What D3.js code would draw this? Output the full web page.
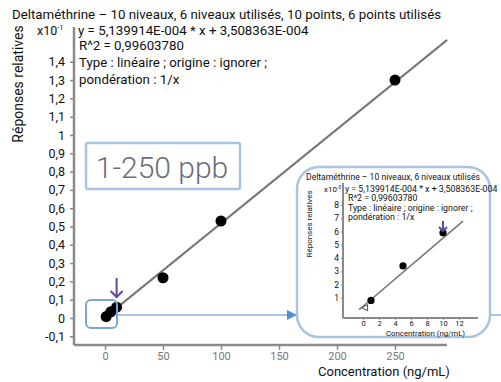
<!DOCTYPE html>
<html>
<head>
<meta charset="utf-8">
<script src="https://cdn.jsdelivr.net/npm/d3@7"></script>
<style>
  html, body { margin: 0; padding: 0; background: #fff; }
  svg { display: block; font-family: Roboto, "Noto Sans", sans-serif; }
</style>
</head>
<body>
<svg id="chart" width="501" height="382"></svg>
<script>
// Calibration levels (ng/mL) and relative responses (in units of 1e-1)
const levels = [1, 5, 10, 50, 100, 250];
const responses = [0.008, 0.034, 0.059, 0.22, 0.53, 1.30];
// Excluded level shown as an open marker
const excludedLevels = [0.2];
const excludedResponses = [0.0025];

// Fitted calibration curve (response vs concentration)
const slope = 5.139914e-4;
const intercept = 3.508363e-4;

const titleText = "Deltaméthrine – 10 niveaux, 6 niveaux utilisés, 10 points, 6 points utilisés";
const insetTitle = "Deltaméthrine – 10 niveaux, 6 niveaux utilisés";
const fitLines = [
  "y = 5,139914E-004 * x + 3,508363E-004",
  "R^2 = 0,99603780",
  "Type : linéaire ; origine : ignorer ;",
  "pondération : 1/x"
];
const xTicks = [0, 50, 100, 150, 200, 250];
const yTicks = [-0.1, 0, 0.1, 0.2, 0.3, 0.4, 0.5, 0.6, 0.7, 0.8, 0.9, 1, 1.1, 1.2, 1.3, 1.4];
const insetXTicks = [0, 2, 4, 6, 8, 10, 12];
const insetYTicks = [1, 2, 3, 4, 5, 6, 7, 8];
const rangeLabel = "1-250 ppb";

const fr = d3.formatLocale({decimal: ",", thousands: " ", grouping: [3], currency: ["", "€"], minus: "-"});
const fmt = fr.format("~g");

const svg = d3.select("#chart");
const axisColor = "#8a8a8a";
const blue = "#7aa7d9";
const purple = "#5b4aa0";

svg.append("defs").append("marker")
  .attr("id", "blueHead").attr("viewBox", "0 0 10 10")
  .attr("refX", 9).attr("refY", 5)
  .attr("markerWidth", 5).attr("markerHeight", 5)
  .attr("orient", "auto")
  .append("path").attr("d", "M0,0 L10,5 L0,10 Z").attr("fill", "#4f8fd6");

// ---------- main chart ----------
const x = d3.scaleLinear().domain([0, 250]).range([105, 395]);
const y = d3.scaleLinear().domain([0, 1.4]).range([318, 61.8]);

svg.append("text").attr("x", 12).attr("y", 19)
  .attr("font-size", 13.3).attr("fill", "#111").text(titleText);

svg.append("text").attr("x", 37).attr("y", 35).attr("font-size", 12.5).attr("fill", "#111")
  .text("x10").append("tspan").attr("dy", -5).attr("font-size", 7.5).text("-1");

fitLines.forEach((t, i) => {
  svg.append("text").attr("x", i === 0 ? 78 : 79).attr("y", [35, 50, 67, 84][i])
    .attr("font-size", 13.3).attr("fill", "#111").text(t);
});

svg.append("text")
  .attr("transform", "translate(23,84) rotate(-90)")
  .attr("text-anchor", "middle").attr("font-size", 14).attr("fill", "#111")
  .text("Réponses relatives");

// axes
const yAxis = svg.append("g").attr("transform", "translate(74,0)")
  .call(d3.axisLeft(y).tickValues(yTicks).tickFormat(fmt).tickSize(4).tickPadding(5));
yAxis.select(".domain").remove();
yAxis.selectAll("line").attr("stroke", axisColor).attr("stroke-width", 1.5);
yAxis.selectAll("text").attr("font-size", 12.5).attr("fill", "#111").attr("font-family", "Roboto, sans-serif");

const xAxis = svg.append("g").attr("transform", "translate(0,345)")
  .call(d3.axisBottom(x).tickValues(xTicks).tickFormat(fmt).tickSize(5).tickPadding(2));
xAxis.select(".domain").remove();
xAxis.selectAll("line").attr("stroke", axisColor).attr("stroke-width", 1.5);
xAxis.selectAll("text").attr("font-size", 11).attr("fill", "#777").attr("font-family", "Roboto, sans-serif");

svg.append("line").attr("x1", 74).attr("x2", 74).attr("y1", 27).attr("y2", 345)
  .attr("stroke", axisColor).attr("stroke-width", 2.5);
svg.append("line").attr("x1", 74).attr("x2", 447).attr("y1", 345).attr("y2", 345)
  .attr("stroke", axisColor).attr("stroke-width", 2.5);

svg.append("text").attr("x", 318).attr("y", 376).attr("font-size", 13).attr("fill", "#111")
  .text("Concentration (ng/mL)");

// regression line (values scaled to 1e-1 units)
const fit = c => (slope * c + intercept) * 10;
svg.append("line")
  .attr("x1", x(0)).attr("y1", y(fit(0)))
  .attr("x2", x(295)).attr("y2", y(fit(295)))
  .attr("stroke", "#777").attr("stroke-width", 2);

svg.append("g").selectAll("circle").data(levels).join("circle")
  .attr("cx", d => x(d)).attr("cy", (d, i) => y(responses[i]))
  .attr("r", 5.5).attr("fill", "#000");

// range label box
svg.append("rect").attr("x", 86).attr("y", 143).attr("width", 154).attr("height", 46)
  .attr("rx", 2).attr("fill", "#fff").attr("stroke", "#a9c3e3").attr("stroke-width", 2.5);
svg.append("text").attr("x", 162).attr("y", 178).attr("text-anchor", "middle")
  .attr("font-size", 30).attr("font-weight", 300).attr("fill", "#6c6c78").text(rangeLabel);

// zoom region around the origin and its connector
svg.append("line").attr("x1", 117).attr("x2", 501).attr("y1", 315).attr("y2", 315)
  .attr("stroke", "#a9c3e3").attr("stroke-width", 2);
svg.append("line").attr("x1", 117).attr("x2", 296).attr("y1", 315).attr("y2", 315)
  .attr("stroke", "#a9c3e3").attr("stroke-width", 2).attr("marker-end", "url(#blueHead)");
svg.append("rect").attr("x", 86).attr("y", 300).attr("width", 31).attr("height", 28)
  .attr("rx", 5).attr("fill", "none").attr("stroke", blue).attr("stroke-width", 2);

// arrow marking the 10 ng/mL level
function downArrow(g, cx, y0, y1, w) {
  g.append("line").attr("x1", cx).attr("x2", cx).attr("y1", y0).attr("y2", y1)
    .attr("stroke", purple).attr("stroke-width", 2);
  g.append("path").attr("d", `M${cx - w},${y1 - w} L${cx},${y1} L${cx + w},${y1 - w}`)
    .attr("fill", "none").attr("stroke", purple).attr("stroke-width", 2);
}
downArrow(svg, x(10), 278, 297, 6);

// ---------- inset ----------
const inset = svg.append("g");
inset.append("rect").attr("x", 297).attr("y", 167).attr("width", 193).attr("height", 170)
  .attr("rx", 22).attr("fill", "#fff").attr("stroke", "#a9c3e3").attr("stroke-width", 2.5);

const ix = d3.scaleLinear().domain([0, 12]).range([363, 459]);
const iy = d3.scaleLinear().domain([0, 8]).range([311, 205]);

inset.append("text").attr("x", 306).attr("y", 180).attr("font-size", 8.6).attr("fill", "#111").text(insetTitle);
inset.append("text").attr("x", 324).attr("y", 192).attr("font-size", 8).attr("fill", "#111")
  .text("x10").append("tspan").attr("dy", -3).attr("font-size", 5).text("-3");
fitLines.forEach((t, i) => {
  inset.append("text").attr("x", i === 0 ? 345 : 348).attr("y", 192 + i * 9.3)
    .attr("font-size", 8.8).attr("fill", "#111").text(t);
});
inset.append("text")
  .attr("transform", "translate(312,224) rotate(-90)")
  .attr("text-anchor", "middle").attr("font-size", 8).attr("fill", "#222")
  .text("Réponses relatives");

const iyAxis = inset.append("g").attr("transform", "translate(343,0)")
  .call(d3.axisLeft(iy).tickValues(insetYTicks).tickFormat(fmt).tickSize(2).tickPadding(2));
iyAxis.select(".domain").remove();
iyAxis.selectAll("line").attr("stroke", axisColor);
iyAxis.selectAll("text").attr("font-size", 8.5).attr("fill", "#111").attr("font-family", "Roboto, sans-serif");

const ixAxis = inset.append("g").attr("transform", "translate(0,318)")
  .call(d3.axisBottom(ix).tickValues(insetXTicks).tickFormat(fmt).tickSize(2).tickPadding(1));
ixAxis.select(".domain").remove();
ixAxis.selectAll("line").attr("stroke", axisColor);
ixAxis.selectAll("text").attr("font-size", 7.5).attr("fill", "#111").attr("font-family", "Roboto, sans-serif");

inset.append("line").attr("x1", 343).attr("x2", 343).attr("y1", 183).attr("y2", 318)
  .attr("stroke", axisColor).attr("stroke-width", 2);
inset.append("line").attr("x1", 343).attr("x2", 478).attr("y1", 318).attr("y2", 318)
  .attr("stroke", axisColor).attr("stroke-width", 2);
inset.append("text").attr("x", 386).attr("y", 336).attr("font-size", 7.8).attr("fill", "#111")
  .text("Concentration (ng/mL)");

// regression line in 1e-3 units
const fitI = c => (slope * c + intercept) * 1000;
inset.append("line")
  .attr("x1", ix(-0.5)).attr("y1", iy(fitI(-0.5)))
  .attr("x2", ix(12.5)).attr("y2", iy(fitI(12.5)))
  .attr("stroke", "#777").attr("stroke-width", 1.6);

const insetIdx = levels.map((d, i) => i).filter(i => levels[i] <= 12);
inset.append("g").selectAll("circle").data(insetIdx).join("circle")
  .attr("cx", i => ix(levels[i])).attr("cy", i => iy(responses[i] * 100))
  .attr("r", 3.6).attr("fill", "#000");

inset.append("g").selectAll("path").data(excludedLevels).join("path")
  .attr("d", (d, i) => {
    const cx = ix(d), cy = iy(excludedResponses[i] * 100);
    return `M${cx - 3},${cy} L${cx + 3},${cy - 3} L${cx + 3},${cy + 3} Z`;
  })
  .attr("fill", "#fff").attr("stroke", "#444").attr("stroke-width", 1);

downArrow(inset, ix(10), 221, 231, 4);
</script>
</body>
</html>
